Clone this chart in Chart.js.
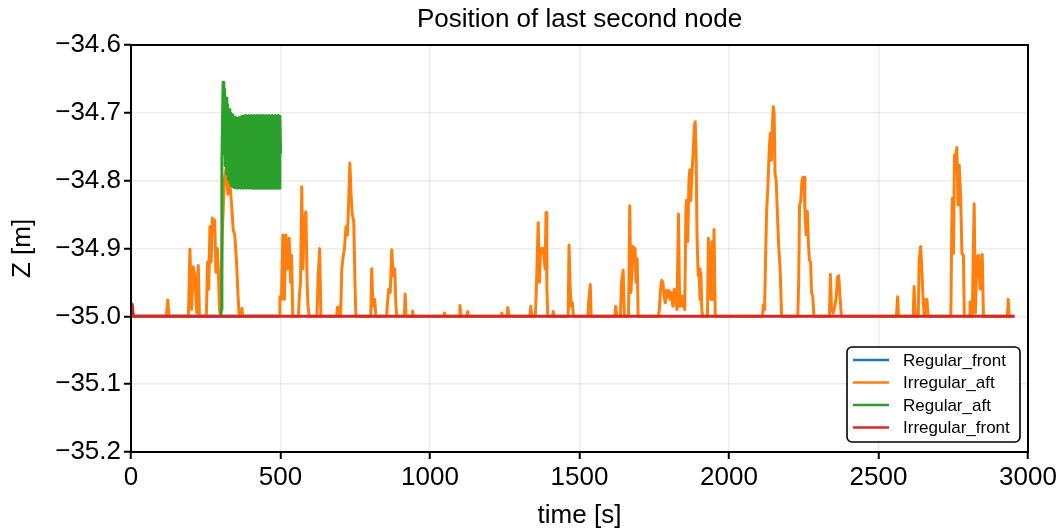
<!DOCTYPE html>
<html>
<head>
<meta charset="utf-8">
<script src="https://cdn.jsdelivr.net/npm/chart.js@4.4.1/dist/chart.umd.min.js"></script>
<style>
  html, body { margin: 0; padding: 0; background: #fff; }
  canvas { display: block; }
</style>
</head>
<body>
<canvas id="c" width="1062" height="531"></canvas>
<script>
// ---- labels ----
const titleText = 'Position of last second node';
const xLabel = 'time [s]';
const yLabel = 'Z [m]';
const xTicks = [0, 500, 1000, 1500, 2000, 2500, 3000];
const yTicks = [-35.2, -35.1, -35.0, -34.9, -34.8, -34.7, -34.6];
const seriesNames = ['Regular_front', 'Irregular_aft', 'Regular_aft', 'Irregular_front'];
const seriesColors = ['#1f77b4', '#ff7f0e', '#2ca02c', '#d62728'];

// ---- Regular_front ----
const regFrontT = [0, 500];
const regFrontZ = [-35.0, -35.0];

// ---- Irregular_aft ----
const irrAftT = [
  0, 118, 123, 127, 192, 197, 203, 208, 214, 220, 225, 229,
  252, 256, 260, 264, 268, 272, 276, 280, 284, 289, 292, 296, 300,
  305, 312, 318, 324, 330, 336, 342, 347, 353, 358, 362, 369, 371, 374,
  495, 498, 503, 508, 513, 518, 523, 529, 534, 537, 541,
  560, 563, 567, 571, 575, 579, 585, 589, 592, 596,
  622, 626, 631, 635, 688, 690, 693, 698, 701, 705, 710, 714, 719, 724, 728, 732, 736, 740, 745, 749, 752,
  802, 805, 809, 815, 819, 855, 857, 862, 867, 872, 877, 882, 886, 889,
  914, 917, 920, 940, 942, 945, 1046, 1048, 1051, 1097, 1100, 1104, 1123, 1126, 1129,
  1238, 1240, 1243, 1257, 1260, 1264, 1334, 1337, 1341,
  1352, 1355, 1362, 1366, 1369, 1373, 1377, 1381, 1385, 1388, 1391, 1394,
  1410, 1412, 1415, 1462, 1465, 1469, 1472, 1476, 1480, 1528, 1530, 1536, 1539,
  1618, 1621, 1625, 1637, 1640, 1646, 1650,
  1664, 1668, 1672, 1676, 1679, 1683, 1686, 1689, 1693, 1696,
  1764, 1767, 1771, 1775, 1779, 1783, 1787, 1791, 1795, 1799, 1803, 1808, 1812, 1817, 1822, 1826,
  1831, 1835, 1840, 1844, 1848, 1852, 1856, 1858, 1862, 1866, 1869, 1872, 1876, 1880, 1884, 1887,
  1890, 1893, 1897, 1900, 1903, 1906, 1909, 1912,
  1928, 1931, 1935, 1939, 1943, 1946, 1950, 1954,
  2112, 2115, 2119, 2123, 2126, 2130, 2134, 2138, 2142, 2145, 2148, 2151, 2154, 2158, 2162, 2166, 2171, 2176,
  2230, 2233, 2236, 2240, 2244, 2247, 2251, 2254, 2258, 2262, 2266, 2269, 2273, 2276, 2280, 2284,
  2336, 2339, 2343, 2349, 2354, 2359, 2363, 2367, 2371, 2376,
  2560, 2564, 2567, 2616, 2619, 2623,
  2633, 2636, 2641, 2645, 2649, 2653, 2658, 2662, 2666,
  2742, 2745, 2747, 2751, 2754, 2758, 2762, 2766, 2770, 2775, 2779, 2784, 2787,
  2804, 2806, 2810, 2814, 2817, 2820, 2824, 2830, 2835, 2840, 2847, 2851,
  2931, 2934, 2937, 2955
];
const irrAftZ = [
  -35.0, -35.0, -34.976, -35.0, -35.0, -34.901, -34.99, -34.927, -34.942, -34.995, -34.925, -35.0,
  -35.0, -34.92, -34.96, -34.868, -34.92, -34.855, -34.87, -34.858, -34.935, -34.9, -34.93, -34.99, -35.0,
  -34.883, -34.8, -34.781, -34.82, -34.799, -34.833, -34.873, -34.88, -34.92, -34.97, -35.0, -35.0, -34.988, -35.0,
  -35.0, -34.971, -34.975, -34.88, -34.975, -34.88, -34.93, -34.885, -34.95, -34.91, -35.0,
  -35.0, -34.97, -34.95, -34.809, -34.93, -34.86, -34.846, -34.95, -34.985, -35.0,
  -35.0, -34.94, -34.9, -35.0, -35.0, -34.987, -35.0, -34.985, -35.0, -34.93, -34.91, -34.9, -34.868, -34.88, -34.83, -34.774, -34.82, -34.85, -34.86, -34.95, -35.0,
  -35.0, -34.93, -34.985, -34.975, -35.0, -35.0, -34.985, -34.96, -34.965, -34.902, -34.94, -34.93, -34.985, -35.0,
  -35.0, -34.967, -35.0, -35.0, -34.992, -35.0, -35.0, -34.995, -35.0, -35.0, -34.984, -35.0, -35.0, -34.993, -35.0,
  -35.0, -34.995, -35.0, -35.0, -34.987, -35.0, -35.0, -34.985, -35.0,
  -35.0, -34.969, -34.862, -34.95, -34.91, -34.9, -34.9, -34.91, -34.93, -34.847, -34.96, -35.0,
  -35.0, -34.993, -35.0, -35.0, -34.895, -34.96, -34.985, -34.98, -35.0, -35.0, -34.982, -34.953, -35.0,
  -35.0, -34.985, -35.0, -35.0, -34.952, -34.932, -35.0,
  -35.0, -34.837, -34.965, -34.93, -34.897, -34.917, -34.9, -34.95, -34.915, -35.0,
  -35.0, -34.99, -34.96, -34.947, -34.95, -34.97, -34.98, -34.962, -34.972, -34.962, -34.975, -34.965, -34.985, -34.96, -34.98, -34.99,
  -34.849, -34.985, -34.97, -34.985, -34.97, -34.99, -34.84, -34.829, -34.89, -34.8, -34.784, -34.83, -34.79, -34.76, -34.72, -34.713,
  -34.76, -34.88, -34.94, -34.93, -34.975, -34.936, -34.99, -35.0,
  -35.0, -34.885, -34.93, -34.975, -34.89, -34.975, -34.872, -35.0,
  -35.0, -34.983, -34.99, -34.9, -34.843, -34.81, -34.76, -34.73, -34.77, -34.72, -34.691, -34.7, -34.79, -34.8, -34.85, -34.895, -34.93, -35.0,
  -35.0, -34.95, -34.836, -34.83, -34.8, -34.795, -34.795, -34.845, -34.88, -34.845, -34.895, -34.917, -34.92, -34.965, -34.97, -35.0,
  -35.0, -34.938, -34.99, -34.995, -34.985, -34.97, -34.942, -34.94, -34.97, -35.0,
  -35.0, -34.971, -35.0, -35.0, -34.956, -35.0,
  -35.0, -34.917, -34.897, -34.93, -34.975, -35.0, -34.975, -34.975, -35.0,
  -35.0, -34.87, -34.826, -34.907, -34.762, -34.77, -34.751, -34.836, -34.777, -34.828, -34.907, -34.91, -35.0,
  -35.0, -34.979, -34.979, -35.0, -34.9, -34.834, -34.995, -34.912, -34.91, -34.96, -34.909, -35.0,
  -35.0, -34.975, -35.0, -35.0
];

// ---- Regular_aft (crest / trough of each wave cycle) ----
const regAftT = [
  300, 302, 304,
  308, 310.5, 313, 315.5, 318, 320.5, 323, 325.5, 328, 330.5, 333, 335.5, 338, 340.5,
  343, 345.5, 348, 350.5, 353, 355.5, 358, 360.5, 363, 365.5, 368, 370.5, 373, 375.5,
  378, 380.5, 383, 385.5, 388, 390.5, 393, 395.5, 398, 400.5, 403, 405.5, 408, 410.5,
  413, 415.5, 418, 420.5, 423, 425.5, 428, 430.5, 433, 435.5, 438, 440.5, 443, 445.5,
  448, 450.5, 453, 455.5, 458, 460.5, 463, 465.5, 468, 470.5, 473, 475.5, 478, 480.5,
  483, 485.5, 488, 490.5, 493, 495.5, 498, 500.5
];
const regAftZ = [
  -35.0, -34.99, -34.77,
  -34.655, -34.760, -34.665, -34.778, -34.678, -34.790, -34.688, -34.798, -34.695, -34.803, -34.700, -34.807, -34.703, -34.809,
  -34.706, -34.810, -34.707, -34.810, -34.708, -34.811, -34.708, -34.810, -34.707, -34.811, -34.706, -34.810, -34.705, -34.811,
  -34.705, -34.810, -34.704, -34.811, -34.705, -34.810, -34.704, -34.811, -34.705, -34.810, -34.704, -34.811, -34.705, -34.810,
  -34.704, -34.811, -34.705, -34.810, -34.704, -34.811, -34.705, -34.810, -34.704, -34.811, -34.705, -34.810, -34.704, -34.811,
  -34.705, -34.810, -34.704, -34.811, -34.705, -34.810, -34.704, -34.811, -34.705, -34.810, -34.704, -34.811, -34.705, -34.810,
  -34.704, -34.811, -34.705, -34.810, -34.704, -34.811, -34.705, -34.760
];

// ---- Irregular_front ----
const irrFrontT = [0, 4, 8, 2955];
const irrFrontZ = [-35.0, -34.982, -35.0, -35.0];

// ---- build chart ----
const FONT = '"Liberation Sans", Arial, Helvetica, sans-serif';
Chart.defaults.font.family = FONT;
Chart.defaults.color = '#000';

const toPoints = (ts, zs) => ts.map((t, i) => ({ x: t, y: zs[i] }));
const seriesData = [
  toPoints(regFrontT, regFrontZ),
  toPoints(irrAftT, irrAftZ),
  toPoints(regAftT, regAftZ),
  toPoints(irrFrontT, irrFrontZ)
];
// later series are painted over earlier ones
const drawOrder = [3, 2, 1, 0];

const datasets = seriesNames.map((name, i) => ({
  label: name,
  data: seriesData[i],
  borderColor: seriesColors[i],
  backgroundColor: seriesColors[i],
  borderWidth: 3,
  pointRadius: 0,
  tension: 0,
  fill: false,
  borderJoinStyle: 'round',
  order: drawOrder[i]
}));

const frameTitleLegend = {
  id: 'frameTitleLegend',
  afterDraw(chart) {
    const { ctx, chartArea: a } = chart;
    ctx.save();
    // axes frame
    ctx.strokeStyle = '#000';
    ctx.lineWidth = 2;
    ctx.strokeRect(a.left, a.top, a.right - a.left, a.bottom - a.top);

    // title
    ctx.fillStyle = '#000';
    ctx.font = '26px ' + FONT;
    ctx.textAlign = 'center';
    ctx.textBaseline = 'middle';
    ctx.fillText(titleText, (a.left + a.right) / 2, 20);

    // legend box, lower right
    const w = 173, h = 95;
    const x0 = a.right - 181, y0 = a.bottom - 105;
    ctx.beginPath();
    ctx.roundRect(x0, y0, w, h, 5);
    ctx.fillStyle = 'rgba(255,255,255,0.85)';
    ctx.fill();
    ctx.lineWidth = 1.6;
    ctx.strokeStyle = '#000';
    ctx.stroke();

    ctx.font = '17px ' + FONT;
    ctx.textAlign = 'left';
    ctx.textBaseline = 'middle';
    chart.data.datasets.forEach((ds, i) => {
      const y = y0 + 13 + i * 22.5;
      ctx.beginPath();
      ctx.moveTo(x0 + 6, y);
      ctx.lineTo(x0 + 42, y);
      ctx.strokeStyle = ds.borderColor;
      ctx.lineWidth = 2.6;
      ctx.stroke();
      ctx.fillStyle = '#000';
      ctx.fillText(ds.label, x0 + 56, y + 1);
    });
    ctx.restore();
  }
};

const fmtX = v => String(v);
const fmtY = v => (v < 0 ? '\u2212' : '') + Math.abs(v).toFixed(1);

new Chart(document.getElementById('c'), {
  type: 'line',
  data: { datasets },
  options: {
    responsive: false,
    animation: false,
    devicePixelRatio: 1,
    layout: { padding: { top: 45, right: 34, left: 0, bottom: 0 } },
    plugins: {
      legend: { display: false },
      title: { display: false },
      tooltip: { enabled: false }
    },
    scales: {
      x: {
        type: 'linear',
        min: xTicks[0],
        max: xTicks[xTicks.length - 1],
        afterBuildTicks: s => { s.ticks = xTicks.map(v => ({ value: v })); },
        afterFit: s => { s.height = 79; },
        ticks: { font: { size: 26 }, padding: 3, maxRotation: 0, autoSkip: false, color: '#000', callback: v => fmtX(v) },
        grid: { color: 'rgba(0,0,0,0.075)', lineWidth: 1.5, drawTicks: true, tickColor: '#000', tickWidth: 2, tickLength: 7 },
        border: { display: false },
        title: { display: true, text: xLabel, font: { size: 26 }, padding: { top: 0, bottom: 0 }, color: '#000' }
      },
      y: {
        type: 'linear',
        min: yTicks[0],
        max: yTicks[yTicks.length - 1],
        afterBuildTicks: s => { s.ticks = yTicks.map(v => ({ value: v })); },
        afterFit: s => { s.width = 131; },
        ticks: { font: { size: 26 }, padding: 3, autoSkip: false, color: '#000', callback: v => fmtY(v) },
        grid: { color: 'rgba(0,0,0,0.075)', lineWidth: 1.5, drawTicks: true, tickColor: '#000', tickWidth: 2, tickLength: 7 },
        border: { display: false },
        title: { display: true, text: yLabel, font: { size: 26 }, padding: { top: 7, bottom: 0 }, color: '#000' }
      }
    }
  },
  plugins: [frameTitleLegend]
});
</script>
</body>
</html>
